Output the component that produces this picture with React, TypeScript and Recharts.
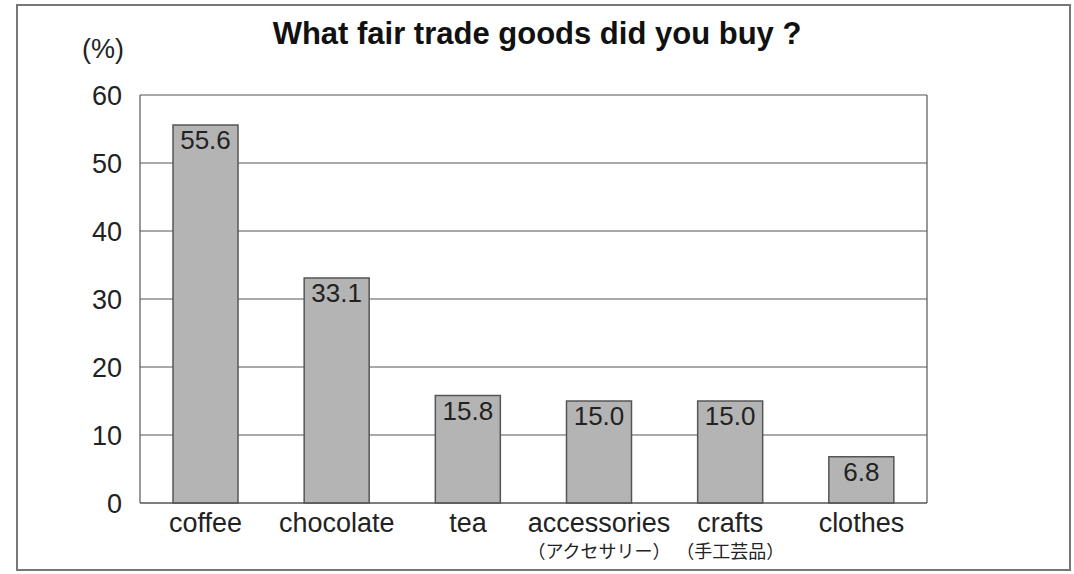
import { BarChart, Bar, XAxis, YAxis, CartesianGrid, LabelList } from 'recharts';

const categories = ['coffee', 'chocolate', 'tea', 'accessories', 'crafts', 'clothes'];
const subLabels = ['', '', '', '（アクセサリー）', '（手工芸品）', ''];
const percents = [55.6, 33.1, 15.8, 15.0, 15.0, 6.8];
const yTicks = [0, 10, 20, 30, 40, 50, 60];

const data = categories.map((name, i) => ({ name, sub: subLabels[i], value: percents[i] }));

const FONT = '"Liberation Sans", Arial, sans-serif';

function CategoryTick({ x, y, payload, index }: any) {
  const sub = subLabels[index ?? categories.indexOf(payload.value)] || '';
  return (
    <g>
      <text x={x} y={y + 21} textAnchor="middle" fill="#222" fontSize={27} fontFamily={FONT}>
        {payload.value}
      </text>
      {sub && (
        <text
          x={x}
          y={y + 47}
          textAnchor="middle"
          fill="#222"
          fontSize={18}
          fontFamily='"Noto Sans CJK JP", sans-serif'
        >
          {sub}
        </text>
      )}
    </g>
  );
}

export default function App() {
  return (
    <div style={{ position: 'fixed', left: 0, top: 0, width: 1074, height: 574, background: '#fff', fontFamily: FONT }}>
      <div
        style={{
          position: 'absolute',
          left: 16,
          top: 4,
          width: 1051,
          height: 563,
          border: '2px solid #777',
        }}
      />
      <div
        style={{
          position: 'absolute',
          left: 0,
          width: 1074,
          top: 16,
          textAlign: 'center',
          fontSize: 31,
          fontWeight: 'bold',
          color: '#111',
        }}
      >
        What fair trade goods did you buy ?
      </div>
      <div style={{ position: 'absolute', left: 82, top: 34, fontSize: 27, color: '#222' }}>(%)</div>
      <div style={{ position: 'absolute', left: 0, top: 0 }}>
        <BarChart
          width={1074}
          height={574}
          data={data}
          margin={{ top: 95, right: 87, bottom: 0, left: 80 }}
          barSize={65}
        >
          <CartesianGrid yAxisId="left" vertical={false} stroke="#555" strokeWidth={1.2} />
          <XAxis
            dataKey="name"
            height={71}
            tickLine={false}
            axisLine={{ stroke: '#555', strokeWidth: 1.2 }}
            tick={<CategoryTick />}
            interval={0}
          />
          <YAxis
            yAxisId="left"
            width={60}
            domain={[0, 60]}
            ticks={yTicks}
            tickLine={false}
            tickMargin={12}
            axisLine={{ stroke: '#555', strokeWidth: 1.2 }}
            tick={{ fill: '#222', fontSize: 27, fontFamily: FONT }}
          />
          <YAxis
            yAxisId="right"
            orientation="right"
            width={60}
            domain={[0, 60]}
            ticks={yTicks}
            tick={false}
            tickLine={false}
            axisLine={{ stroke: '#555', strokeWidth: 1.2 }}
          />
          <Bar yAxisId="left" dataKey="value" fill="#b4b4b4" stroke="#555" strokeWidth={1.5} isAnimationActive={false}>
            <LabelList
              dataKey="value"
              position="insideTop"
              offset={6}
              formatter={(v: any) => Number(v).toFixed(1)}
              fill="#222"
              fontSize={26}
              fontFamily={FONT}
            />
          </Bar>
        </BarChart>
      </div>
    </div>
  );
}
